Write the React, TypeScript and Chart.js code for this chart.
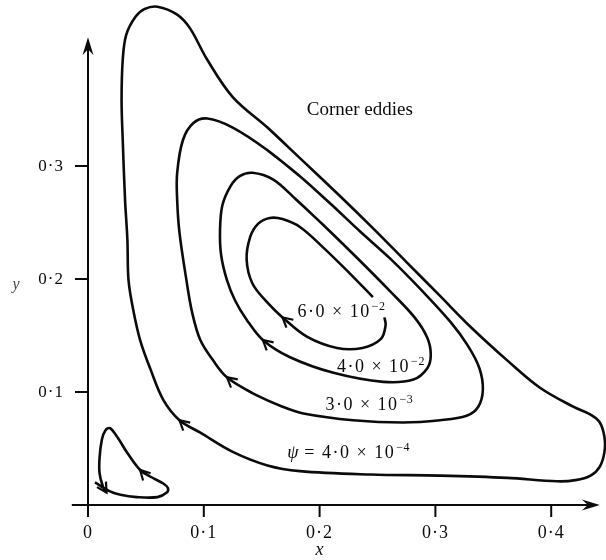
import { useEffect, useRef } from "react";
import { Chart, registerables } from "chart.js";

Chart.register(...registerables);

const FONT = '"Liberation Serif", "Times New Roman", Times, serif';
const INK = "#0b0b0b";

// ---- axis ticks ----
const xTicks = [0, 0.1, 0.2, 0.3, 0.4];
const xTickLabels = ["0", "0·1", "0·2", "0·3", "0·4"];
const yTicks = [0.1, 0.2, 0.3];
const yTickLabels = ["0·1", "0·2", "0·3"];

// ---- streamlines (x, y) ----
// ψ = 4.0 × 10⁻⁴ (closed)
const psi4e4: [number, number][] = [
  [0.155, 0.334], [0.183, 0.307], [0.218, 0.273], [0.246, 0.245], [0.275, 0.215],
  [0.304, 0.185], [0.330, 0.158], [0.362, 0.128], [0.390, 0.104], [0.419, 0.087],
  [0.434, 0.080], [0.442, 0.073], [0.446, 0.060], [0.446, 0.047], [0.442, 0.034],
  [0.434, 0.026], [0.421, 0.022], [0.405, 0.021], [0.362, 0.024], [0.304, 0.026],
  [0.244, 0.027], [0.183, 0.030], [0.155, 0.035], [0.125, 0.047], [0.097, 0.064],
  [0.079, 0.075], [0.065, 0.093], [0.054, 0.120], [0.045, 0.146], [0.039, 0.173],
  [0.035, 0.199], [0.034, 0.235], [0.032, 0.270], [0.030, 0.323], [0.029, 0.358],
  [0.030, 0.394], [0.033, 0.416], [0.041, 0.432], [0.049, 0.439], [0.060, 0.441],
  [0.077, 0.434], [0.088, 0.422], [0.103, 0.394], [0.125, 0.361],
];
// ψ = 3.0 × 10⁻³ (closed)
const psi3e3: [number, number][] = [
  [0.155, 0.314], [0.183, 0.291], [0.209, 0.267], [0.235, 0.242], [0.261, 0.218],
  [0.289, 0.189], [0.313, 0.162], [0.328, 0.141], [0.338, 0.121], [0.341, 0.102],
  [0.337, 0.087], [0.327, 0.079], [0.304, 0.075], [0.272, 0.073], [0.229, 0.075],
  [0.186, 0.081], [0.168, 0.087], [0.142, 0.099], [0.120, 0.113], [0.108, 0.128],
  [0.097, 0.146], [0.090, 0.170], [0.085, 0.199], [0.079, 0.241], [0.077, 0.270],
  [0.077, 0.294], [0.082, 0.323], [0.091, 0.338], [0.103, 0.342], [0.125, 0.334],
];
// ψ = 4.0 × 10⁻² (closed)
const psi4e2: [number, number][] = [
  [0.179, 0.271], [0.203, 0.248], [0.232, 0.219], [0.261, 0.189], [0.282, 0.166],
  [0.293, 0.148], [0.296, 0.133], [0.293, 0.121], [0.281, 0.111], [0.255, 0.109],
  [0.212, 0.117], [0.174, 0.131], [0.151, 0.146], [0.137, 0.164], [0.127, 0.181],
  [0.120, 0.199], [0.115, 0.221], [0.114, 0.243], [0.116, 0.265], [0.123, 0.282],
  [0.131, 0.291], [0.142, 0.294], [0.160, 0.288],
];
// ψ = 6.0 × 10⁻² (open at the label)
const psi6e2: [number, number][] = [
  [0.256, 0.166], [0.257, 0.159], [0.253, 0.147], [0.237, 0.139], [0.215, 0.139],
  [0.189, 0.149], [0.168, 0.166], [0.155, 0.179], [0.142, 0.196], [0.137, 0.217],
  [0.140, 0.237], [0.147, 0.249], [0.157, 0.254], [0.168, 0.253], [0.183, 0.246],
  [0.203, 0.228], [0.226, 0.205], [0.246, 0.184],
];
// corner eddy (open spiral)
const cornerEddy: [number, number][] = [
  [0.006, 0.020], [0.019, 0.012], [0.028, 0.009], [0.042, 0.007], [0.060, 0.007],
  [0.068, 0.011], [0.069, 0.015], [0.065, 0.019], [0.054, 0.025], [0.045, 0.031],
  [0.034, 0.046], [0.026, 0.059], [0.019, 0.068], [0.015, 0.066], [0.012, 0.058],
  [0.010, 0.042], [0.010, 0.028], [0.013, 0.016], [0.016, 0.011],
];

const contours = [
  { name: "ψ = 4.0e-4", pts: psi4e4, closed: true },
  { name: "ψ = 3.0e-3", pts: psi3e3, closed: true },
  { name: "ψ = 4.0e-2", pts: psi4e2, closed: true },
  { name: "ψ = 6.0e-2", pts: psi6e2, closed: false },
  { name: "corner eddy", pts: cornerEddy, closed: false },
];

// flow-direction arrowheads: [contour index, point index]
const flowArrows: [number, number][] = [
  [0, 25], [1, 18], [2, 12], [3, 6], [4, 9], [4, 18],
];

// contour labels (anchor = left end of text baseline, in data units)
const contourLabels = [
  { prefix: "", mant: "6·0 × 10", exp: "−2", x: 0.181, y: 0.166 },
  { prefix: "", mant: "4·0 × 10", exp: "−2", x: 0.215, y: 0.118 },
  { prefix: "", mant: "3·0 × 10", exp: "−3", x: 0.205, y: 0.084 },
  { prefix: "ψ", mant: " = 4·0 × 10", exp: "−4", x: 0.172, y: 0.042 },
];
const noteText = "Corner eddies";
const notePos = { x: 0.189, y: 0.345 };

// axis extents (data units)
const X_MIN = -0.07599, X_MAX = 0.44732;
const Y_MIN = -0.04867, Y_MAX = 0.4469;
const X_AXIS_FROM = -0.014, X_AXIS_TO = 0.442;
const Y_AXIS_TO = 0.414;

function axisArrow(ctx: CanvasRenderingContext2D, x: number, y: number, ang: number) {
  ctx.save();
  ctx.translate(x, y);
  ctx.rotate(ang);
  ctx.beginPath();
  ctx.moveTo(0, 0);
  ctx.lineTo(-18, -5.5);
  ctx.lineTo(-12, 0);
  ctx.lineTo(-18, 5.5);
  ctx.closePath();
  ctx.fill();
  ctx.restore();
}

const overlay = {
  id: "overlay",
  afterDatasetsDraw(chart: any) {
    const ctx: CanvasRenderingContext2D = chart.ctx;
    const xs = chart.scales.x, ys = chart.scales.y;
    const px = (v: number) => xs.getPixelForValue(v);
    const py = (v: number) => ys.getPixelForValue(v);
    ctx.save();
    ctx.strokeStyle = INK;
    ctx.fillStyle = INK;
    ctx.lineCap = "butt";

    // axes
    ctx.lineWidth = 2;
    ctx.beginPath();
    ctx.moveTo(px(X_AXIS_FROM), py(0));
    ctx.lineTo(px(X_AXIS_TO) - 10, py(0));
    ctx.moveTo(px(0), py(0) + 1);
    ctx.lineTo(px(0), py(Y_AXIS_TO) + 10);
    ctx.stroke();
    axisArrow(ctx, px(X_AXIS_TO), py(0), 0);
    axisArrow(ctx, px(0), py(Y_AXIS_TO), -Math.PI / 2);

    // ticks
    ctx.beginPath();
    xTicks.forEach((v) => {
      ctx.moveTo(px(v), py(0));
      ctx.lineTo(px(v), py(0) + 12);
    });
    yTicks.forEach((v) => {
      ctx.moveTo(px(0), py(v));
      ctx.lineTo(px(0) - 13, py(v));
    });
    ctx.stroke();

    // tick labels
    (ctx as any).letterSpacing = "1px";
    ctx.font = `18px ${FONT}`;
    ctx.textAlign = "center";
    ctx.textBaseline = "alphabetic";
    xTicks.forEach((v, i) => ctx.fillText(xTickLabels[i], px(v), py(0) + 33));
    ctx.font = `17px ${FONT}`;
    ctx.textAlign = "right";
    ctx.textBaseline = "middle";
    yTicks.forEach((v, i) => ctx.fillText(yTickLabels[i], px(0) - 24, py(v) + 1));
    (ctx as any).letterSpacing = "0px";

    // axis titles
    ctx.font = `italic 18px ${FONT}`;
    ctx.textAlign = "center";
    ctx.textBaseline = "alphabetic";
    ctx.fillText("x", px(0.2), py(0) + 50);
    ctx.fillStyle = "#444";
    ctx.font = `italic 16px ${FONT}`;
    ctx.fillText("y", px(0) - 72, py(0.2) + 10);
    ctx.fillStyle = INK;

    // note
    ctx.font = `19px ${FONT}`;
    ctx.textAlign = "left";
    ctx.fillText(noteText, px(notePos.x), py(notePos.y));

    // contour labels
    contourLabels.forEach((l) => {
      let x = px(l.x);
      const y = py(l.y);
      ctx.textAlign = "left";
      if (l.prefix) {
        ctx.font = `italic 18px ${FONT}`;
        ctx.fillText(l.prefix, x, y);
        x += ctx.measureText(l.prefix).width;
      }
      ctx.font = `18px ${FONT}`;
      (ctx as any).letterSpacing = "1.5px";
      ctx.fillText(l.mant, x, y);
      x += ctx.measureText(l.mant).width;
      (ctx as any).letterSpacing = "0.5px";
      ctx.font = `12px ${FONT}`;
      ctx.fillText(l.exp, x + 1, y - 7);
      (ctx as any).letterSpacing = "0px";
    });

    // flow arrows
    ctx.lineWidth = 2.2;
    ctx.lineJoin = "miter";
    flowArrows.forEach(([ci, pi]) => {
      const pts = contours[ci].pts;
      const p = pts[pi];
      const a = pts[Math.max(0, pi - 1)];
      const b = pts[Math.min(pts.length - 1, pi + 1)];
      const tx = px(p[0]), ty = py(p[1]);
      const ang = Math.atan2(py(b[1]) - py(a[1]), px(b[0]) - px(a[0]));
      const L = 11, spread = 0.5;
      ctx.beginPath();
      ctx.moveTo(tx - L * Math.cos(ang - spread), ty - L * Math.sin(ang - spread));
      ctx.lineTo(tx, ty);
      ctx.lineTo(tx - L * Math.cos(ang + spread), ty - L * Math.sin(ang + spread));
      ctx.stroke();
    });
    ctx.restore();
  },
};

export default function App() {
  const ref = useRef<HTMLCanvasElement | null>(null);
  useEffect(() => {
    document.body.style.margin = "0";
    const canvas = ref.current;
    if (!canvas) return;
    const datasets = contours.map((c) => {
      const pts = c.closed ? [...c.pts, c.pts[0], c.pts[1]] : c.pts;
      return {
        label: c.name,
        data: pts.map(([x, y]) => ({ x, y })),
        borderColor: INK,
        borderWidth: 2.6,
        pointRadius: 0,
        tension: 0.35,
        fill: false,
      };
    });
    const chart = new Chart(canvas, {
      type: "line",
      data: { datasets } as any,
      options: {
        animation: false,
        responsive: false,
        maintainAspectRatio: false,
        events: [],
        layout: { padding: 0 },
        plugins: { legend: { display: false }, tooltip: { enabled: false } },
        scales: {
          x: { type: "linear", min: X_MIN, max: X_MAX, display: false },
          y: { type: "linear", min: Y_MIN, max: Y_MAX, display: false },
        },
      },
      plugins: [overlay],
    });
    return () => chart.destroy();
  }, []);
  return (
    <div style={{ width: 606, height: 560, background: "#fff" }}>
      <canvas ref={ref} width={606} height={560} style={{ display: "block" }} />
    </div>
  );
}
